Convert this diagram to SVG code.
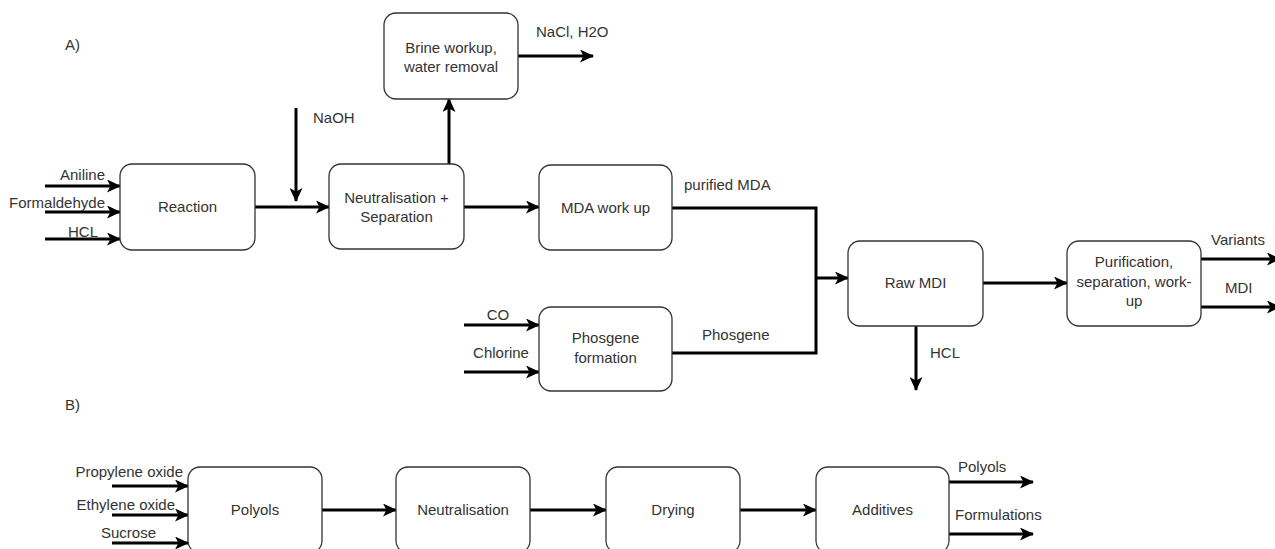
<svg xmlns="http://www.w3.org/2000/svg" width="1275" height="549" viewBox="0 0 1275 549">
<style>
.box{fill:#fff;stroke:#333;stroke-width:1.3}
.t{font-family:"Liberation Sans",Arial,sans-serif;font-size:15px;fill:#333}
.m{text-anchor:middle}
.e{text-anchor:end}
.c{fill:none;stroke:#000;stroke-width:3}
.a{marker-end:url(#ah)}
</style>
<defs>
<marker id="ah" markerUnits="userSpaceOnUse" markerWidth="15" markerHeight="13" refX="13" refY="6.5" orient="auto" viewBox="0 0 15 13">
<path d="M0,0 L14,6.5 L0,13 L3.5,6.5 Z" fill="#000"/>
</marker>
</defs>
<rect width="1275" height="549" fill="#fff"/>
<text class="t" x="65" y="50">A)</text>
<text class="t" x="65" y="410">B)</text>

<g id="connectors">
<path class="c a" d="M45,186 H120"/>
<path class="c a" d="M45,212 H120"/>
<path class="c a" d="M45,239 H120"/>
<path class="c a" d="M255,207 H329"/>
<path class="c a" d="M296,108 V201"/>
<path class="c a" d="M449,164 V99"/>
<path class="c a" d="M518,56 H593"/>
<path class="c a" d="M464,207 H539"/>
<path class="c" d="M672,208 H816 V353 H672"/>
<path class="c a" d="M816,278 H848"/>
<path class="c a" d="M464,325 H539"/>
<path class="c a" d="M464,372 H539"/>
<path class="c a" d="M916,326 V390"/>
<path class="c a" d="M983,283 H1067"/>
<path class="c a" d="M1201,259 H1280"/>
<path class="c a" d="M1201,307 H1280"/>
<path class="c a" d="M112,486 H188"/>
<path class="c a" d="M112,515 H188"/>
<path class="c a" d="M112,543 H188"/>
<path class="c a" d="M322,510 H396"/>
<path class="c a" d="M530,510 H606"/>
<path class="c a" d="M740,510 H816"/>
<path class="c a" d="M949,482 H1033"/>
<path class="c a" d="M949,534 H1033"/>
</g>

<g id="labels">
<text class="t e" x="105" y="180">Aniline</text>
<text class="t e" x="105" y="208">Formaldehyde</text>
<text class="t m" x="83" y="237">HCL</text>
<text class="t" x="313" y="123">NaOH</text>
<text class="t" x="536" y="37">NaCl, H2O</text>
<text class="t" x="684" y="190">purified MDA</text>
<text class="t m" x="498" y="320">CO</text>
<text class="t m" x="501" y="358">Chlorine</text>
<text class="t" x="702" y="340">Phosgene</text>
<text class="t" x="930" y="358">HCL</text>
<text class="t" x="1211" y="245">Variants</text>
<text class="t" x="1225" y="293">MDI</text>
<text class="t e" x="183" y="477">Propylene oxide</text>
<text class="t e" x="175" y="510">Ethylene oxide</text>
<text class="t e" x="156" y="538">Sucrose</text>
<text class="t" x="958" y="472">Polyols</text>
<text class="t" x="955" y="520">Formulations</text>
</g>

<g id="reaction"><rect class="box" x="120" y="164" width="135" height="86" rx="12"/><text class="t m" x="187.5" y="212">Reaction</text></g>
<g id="neutralisation-sep"><rect class="box" x="329" y="164" width="135" height="85" rx="12"/><text class="t m" x="396.5" y="203">Neutralisation +</text><text class="t m" x="396.5" y="222">Separation</text></g>
<g id="brine"><rect class="box" x="384" y="13" width="134" height="86" rx="12"/><text class="t m" x="451" y="53">Brine workup,</text><text class="t m" x="451" y="72">water removal</text></g>
<g id="mda-workup"><rect class="box" x="539" y="165" width="133" height="85" rx="12"/><text class="t m" x="605.5" y="213">MDA work up</text></g>
<g id="phosgene-formation"><rect class="box" x="539" y="307" width="133" height="84" rx="12"/><text class="t m" x="605.5" y="343">Phosgene</text><text class="t m" x="605.5" y="363">formation</text></g>
<g id="raw-mdi"><rect class="box" x="848" y="241" width="135" height="85" rx="12"/><text class="t m" x="915.5" y="288">Raw MDI</text></g>
<g id="purification"><rect class="box" x="1067" y="241" width="134" height="85" rx="12"/><text class="t m" x="1134" y="267">Purification,</text><text class="t m" x="1134" y="287">separation, work-</text><text class="t m" x="1134" y="306">up</text></g>
<g id="polyols"><rect class="box" x="188" y="467" width="134" height="86" rx="12"/><text class="t m" x="255" y="515">Polyols</text></g>
<g id="neutralisation"><rect class="box" x="396" y="467" width="134" height="86" rx="12"/><text class="t m" x="463" y="515">Neutralisation</text></g>
<g id="drying"><rect class="box" x="606" y="467" width="134" height="86" rx="12"/><text class="t m" x="673" y="515">Drying</text></g>
<g id="additives"><rect class="box" x="816" y="467" width="133" height="86" rx="12"/><text class="t m" x="882.5" y="515">Additives</text></g>
</svg>
